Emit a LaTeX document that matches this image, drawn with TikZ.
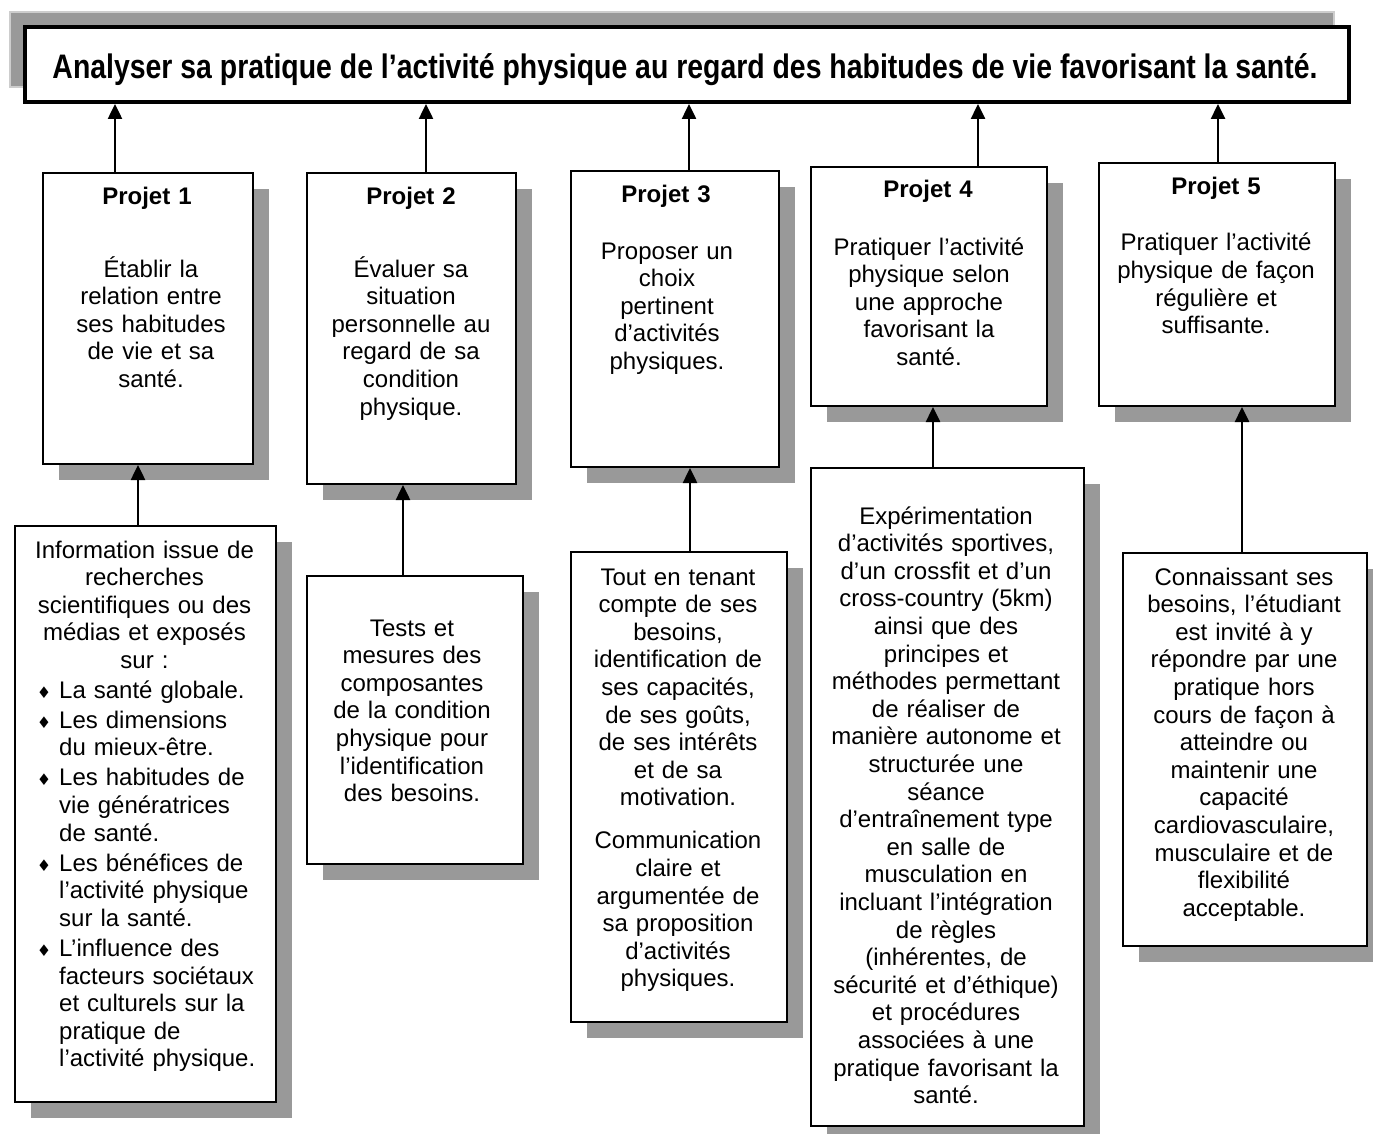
\documentclass[tikz,border=0pt]{standalone}
\usepackage{fontspec}
\setmainfont{Liberation Sans}
\newfontfamily\symfont{DejaVu Sans}
\usepackage{graphicx}
\usetikzlibrary{arrows.meta,shadows}
\definecolor{shadowgray}{RGB}{153,153,153}
\definecolor{shadowedge}{RGB}{205,205,205}
\newcommand\mybul{\leavevmode\llap{{\symfont\fontsize{16}{16}\selectfont ♦}\hspace{8pt}}}
\begin{document}
\begin{tikzpicture}[x=1pt,y=-1pt,
  panel/.style={draw=black, line width=2pt, fill=white, anchor=north west, inner sep=0pt,
    drop shadow={shadow xshift=16pt, shadow yshift=-16pt, fill=shadowgray, draw=none, opacity=1}},
  titlebox/.style={draw=black, line width=4pt, fill=white, anchor=north west, inner sep=0pt,
    drop shadow={shadow xshift=-15pt, shadow yshift=15pt, fill=shadowgray, draw=shadowedge, line width=1.5pt, opacity=1}},
  txt/.style={anchor=base, text width=300pt, align=center, inner sep=0pt, font=\fontsize{24}{27.6}\selectfont},
  head/.style={txt, font=\fontsize{24}{27.6}\selectfont\bfseries},
  listtxt/.style={anchor=base west, text width=260pt, align=left, inner sep=0pt, font=\fontsize{24}{27.6}\selectfont},
  arr/.style={line width=2.5pt, -{Triangle[length=15pt,width=14pt]}}
]
\useasboundingbox (0,0) rectangle (1373,1134);

% title
\node[titlebox, minimum width=1324pt, minimum height=75pt] (t) at (23,25) {};
\node[anchor=base, inner sep=0pt] (tt) at (685,79) {\resizebox{1265pt}{\height}{\fontsize{34}{40}\selectfont\bfseries Analyser sa pratique de l’activité physique au regard des habitudes de vie favorisant la santé.}};

% project boxes
\node[panel, minimum width=210pt, minimum height=291pt] (p1) at (42,172) {};
\node[panel, minimum width=209pt, minimum height=311pt] (p2) at (306,172) {};
\node[panel, minimum width=208pt, minimum height=296pt] (p3) at (570,170) {};
\node[panel, minimum width=236pt, minimum height=239pt] (p4) at (810,166) {};
\node[panel, minimum width=236pt, minimum height=243pt] (p5) at (1098,162) {};

% lower boxes
\node[panel, minimum width=261pt, minimum height=576pt] (b1) at (14,525) {};
\node[panel, minimum width=216pt, minimum height=288pt] (b2) at (306,575) {};
\node[panel, minimum width=216pt, minimum height=470pt] (b3) at (570,551) {};
\node[panel, minimum width=273pt, minimum height=658pt] (b4) at (810,467) {};
\node[panel, minimum width=244pt, minimum height=393pt] (b5) at (1122,552) {};

% project texts
\node[head] (h1) at (147,205) {Projet 1};
\node[txt] (x1) at (151,277) {Établir la\\relation entre\\ses habitudes\\de vie et sa\\santé.};
\node[head] (h2) at (411,205) {Projet 2};
\node[txt] (x2) at (411,277) {Évaluer sa\\situation\\personnelle au\\regard de sa\\condition\\physique.};
\node[head] (h3) at (666,203) {Projet 3};
\node[txt] (x3) at (667,259) {Proposer un\\choix\\pertinent\\d’activités\\physiques.};
\node[head] (h4) at (928,198) {Projet 4};
\node[txt] (x4) at (929,255) {Pratiquer l’activité\\physique selon\\une approche\\favorisant la\\santé.};
\node[head] (h5) at (1216,195) {Projet 5};
\node[txt] (x5) at (1216,251) {Pratiquer l’activité\\physique de façon\\régulière et\\suffisante.};

% lower texts
\node[txt] (y1) at (144.5,558) {Information issue de\\recherches\\scientifiques ou des\\médias et exposés\\sur :};
\node[listtxt] (y1l) at (59,698) {\mybul La santé globale.\\[2.5pt]\mybul Les dimensions\\du mieux-être.\\[2.5pt]\mybul Les habitudes de\\vie génératrices\\de santé.\\[2.5pt]\mybul Les bénéfices de\\l’activité physique\\sur la santé.\\[2.5pt]\mybul L’influence des\\facteurs sociétaux\\et culturels sur la\\pratique de\\l’activité physique.};
\node[txt] (y2) at (412,636) {Tests et\\mesures des\\composantes\\de la condition\\physique pour\\l’identification\\des besoins.};
\node[txt] (y3) at (678,585) {Tout en tenant\\compte de ses\\besoins,\\identification de\\ses capacités,\\de ses goûts,\\de ses intérêts\\et de sa\\motivation.\\[15.5pt]Communication\\claire et\\argumentée de\\sa proposition\\d’activités\\physiques.};
\node[txt] (y4) at (946,524) {Expérimentation\\d’activités sportives,\\d’un crossfit et d’un\\cross-country (5km)\\ainsi que des\\principes et\\méthodes permettant\\de réaliser de\\manière autonome et\\structurée une\\séance\\d’entraînement type\\en salle de\\musculation en\\incluant l’intégration\\de règles\\(inhérentes, de\\sécurité et d’éthique)\\et procédures\\associées à une\\pratique favorisant la\\santé.};
\node[txt] (y5) at (1244,585) {Connaissant ses\\besoins, l’étudiant\\est invité à y\\répondre par une\\pratique hors\\cours de façon à\\atteindre ou\\maintenir une\\capacité\\cardiovasculaire,\\musculaire et de\\flexibilité\\acceptable.};

% connectors: projects to title
\coordinate (a1) at ([xshift=73pt]p1.north west);
\coordinate (a2) at ([xshift=120pt]p2.north west);
\coordinate (a3) at ([xshift=119pt]p3.north west);
\coordinate (a4) at ([xshift=168pt]p4.north west);
\coordinate (a5) at ([xshift=120pt]p5.north west);
\foreach \a in {a1,a2,a3,a4,a5} {\draw[arr] (\a) -- (\a |- t.south);}

% connectors: lower boxes to projects
\coordinate (c1) at ([xshift=124pt]b1.north west);
\coordinate (c2) at ([xshift=97pt]b2.north west);
\coordinate (c3) at ([xshift=120pt]b3.north west);
\coordinate (c4) at ([xshift=123pt]b4.north west);
\coordinate (c5) at ([xshift=120pt]b5.north west);
\draw[arr] (c1) -- (c1 |- p1.south);
\draw[arr] (c2) -- (c2 |- p2.south);
\draw[arr] (c3) -- (c3 |- p3.south);
\draw[arr] (c4) -- (c4 |- p4.south);
\draw[arr] (c5) -- (c5 |- p5.south);
\end{tikzpicture}
\end{document}
